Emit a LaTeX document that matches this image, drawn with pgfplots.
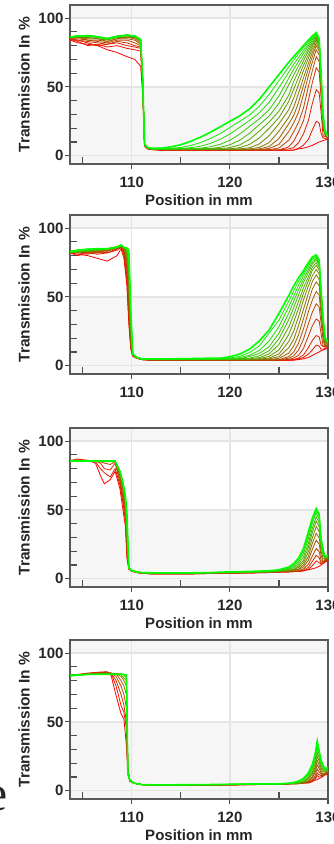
\documentclass[border=0pt]{standalone}
\usepackage{pgfplots}
\pgfplotsset{compat=1.18}
\usepackage{pgfplotstable}
\usepackage{fontspec}
\setmainfont{Liberation Sans}
\newfontfamily\seriffont{Liberation Serif}

\foreach \i in {0,...,15}{\pgfmathtruncatemacro\p{round(\i*100/15)}\xglobal\colorlet{p\i}{green!\p!red}}
\foreach \i in {0,...,11}{\pgfmathtruncatemacro\p{round(\i*100/11)}\xglobal\colorlet{q\i}{green!\p!red}}

% Panel 1
\pgfplotstableread{
x c0 c1 c2 c3 c4 c5 c6 c7 c8 c9 c10 c11 c12 c13 c14 c15
103.7 84 85 84 85 85 85 86 86 86 86.5 86 86.5 86 86.5 86 86
104.5 82 83 84 84 85 86 86 86 87 87 86.5 87 87.5 87 87 87
105.5 81 80 82 83 84 84 85 86 86.5 87 87 87.5 87 87 87.5 87
106.5 80 81 80 82 83 84 85 85 86 86 86.5 86 86.5 86 86.5 86.5
107.5 77 79 81 81 82 83 83 84 84.5 85 85 84.5 85 85.5 85 85
108.5 75 80 82 83 84 85 85 86 86 86.5 87 86.5 86.5 87 86.5 86.5
109.5 72 78 80 82 84 85 86 86 87 87 87.5 87.5 88 87.5 87.5 87.5
110.3 70 77 79 80 82 84 85 86 86 86.5 87 87 87 87 87 87
110.9 65 76 78 79 80 81 82 83 84 84 84 84 84 84.5 84.5 84.5
111.1 45 50 52 53 54 55 55 56 56 57 57 57 58 58 58 58
111.3 7 7.5 8 8 8 8 8 8 8 8 8.5 8.5 8.5 8.5 8.5 8.5
111.6 5 5 5.5 5.5 5.5 6 6 6 6 6 6 6 6 6 6 6
112 4.5 4.5 4.5 5 5 5 5 5 5 5 5 5 5 5 5 5.5
113 4 4 4.2 4.2 4.4 4.5 4.5 4.6 4.8 4.8 4.9 5 5 5 5.2 5.5
114 4 4 4.2 4.2 4.4 4.5 4.5 4.6 4.8 4.8 4.9 5 5 5 5.5 6.5
115 4 4 4.2 4.2 4.4 4.5 4.5 4.6 4.8 4.8 4.9 5 5 5.2 6 8
116 4 4 4.2 4.2 4.4 4.5 4.5 4.6 4.8 4.8 4.9 5 5 5.9 7.5 10.5
117 4 4 4.2 4.2 4.4 4.5 4.5 4.6 4.8 4.8 4.9 5 5.5 6.9 9.5 13.5
118 4 4 4.2 4.2 4.4 4.5 4.5 4.6 4.8 4.8 4.9 5.3 6.5 8.9 12.5 17
119 4 4 4.2 4.2 4.4 4.5 4.5 4.6 4.8 4.8 5.2 6.1 8.3 11.9 16 21
120 4 4 4.2 4.2 4.4 4.5 4.5 4.6 4.8 5 5.9 8 11.2 15.7 20.5 25
121 4 4 4.2 4.2 4.4 4.5 4.5 4.6 5 5.9 7.9 11.2 15.7 20.7 25 29
122 4 4 4.2 4.2 4.4 4.5 4.5 5 5.8 8.2 11.8 16.3 21.3 25.6 29.5 34
123 4 4 4.2 4.2 4.4 4.5 5 6 8.6 12.9 17.9 22.6 26.8 31.2 36 41
124 4 4 4.2 4.2 4.4 5.3 6.7 9.6 14.6 19.9 24.5 28.8 33.4 38.8 44.5 50
125 4 4 4.2 4.2 5.6 8.2 12.5 17.8 23.2 27.7 32.4 38.1 43.4 49.5 54.5 59
126 4 4 5 6.5 11.3 17.6 23.2 28 33.4 39.5 43.9 51.5 56.4 60.7 64.5 68
126.5 4 4.2 5.9 10.5 17.4 23.8 29.2 35.2 41.9 48.3 53.8 58.5 62.7 66.3 69.5 72
127 5 5.4 9.5 17.4 24.3 31.7 38.7 45.5 51.8 57.1 61.6 65.4 68.7 71.4 74 76
127.5 5.5 7.7 15.9 25.4 34.7 44.3 51.1 56.6 61.8 65.6 68.9 71.6 74.3 76.4 78.5 80
128 6.5 11.9 25.5 40.3 50.3 58.2 63.2 67 70.8 73.5 76.2 77.9 79.9 81.4 83 84
128.4 7.5 18.6 37.9 53 61.7 67.9 72 75 77.8 79.7 81.3 82.8 84.2 85.3 86 87
128.8 9 25 48 64 72 77 80 82 84 85 86 87 88 88.5 89 89.5
129.1 10 23.8 45.6 60.8 68.4 73.2 76 77.9 79.8 80.8 81.7 82.7 83.6 84.1 84.6 85
129.3 10.5 16 31 41.6 46.8 50 52 53.3 54.6 55.3 56 56.6 57.2 57.5 58 60
129.5 11 13 14.4 19.2 21.6 23.1 24 24.6 25.2 25.5 25.8 26.1 26.4 26.6 27 30
129.7 11.5 12.5 14 15 15 15.5 15.5 16 16 16 16.5 16.5 17 17 17.5 18
130 12 12 13 13 13 13 13 13.5 13.5 13.5 13.5 14 14 14 14 14
}\tabA

% Panel 2
\pgfplotstableread{
x c0 c1 c2 c3 c4 c5 c6 c7 c8 c9 c10 c11 c12 c13 c14 c15
103.7 82 82 83 82 83 83 82 83 83 82 83 83 82 83 83 83
104.5 81 80 82 83 82 83 84 83 82 84 83 84 83 84 84 84
105.5 80 82 81 82 83 82 83 84 84 83 84 84 84 84 85 84.5
106.5 78 81 83 82 82 84 83 84 84 84 85 84 85 85 84.5 85
107.5 76 82 82 84 83 84 84 85 84 85 84.5 85 85 85 85 85
108.5 80 84 85 85 86 85 86 86 86 86.5 86 86 86.5 86 86.5 86
108.9 85 86 86 87 87 87 87 87.5 87 87.5 87.5 87.5 87.5 87.5 88 87.5
109.2 78 80 82 83 84 85 85 85.5 86 86 86 86 86 86 86 86
109.5 58 62 66 70 73 76 78 80 81 82 83 84 84.5 85 85 85.5
109.7 30 33 36 40 44 48 52 56 60 64 68 72 76 78 80 84
109.9 12 13 14 15 16 17 19 21 23 25 27 29 32 34 37 40
110.1 7 7 7 7.5 7.5 7.5 8 8 8 8 8 8.5 8.5 8.5 8.5 8.5
110.5 5.5 5.5 5.5 5.5 6 6 6 6 6 6 6 6 6 6 6 6
111 4.5 4.5 4.5 4.5 4.5 5 5 5 5 5 5 5 5 5 5 5
112 4 4 4 4 4.2 4.2 4.4 4.4 4.6 4.6 4.8 4.8 5 5 5 5
114 4 4 4 4 4.2 4.2 4.4 4.4 4.6 4.6 4.8 4.8 5 5 5 5
116 4 4 4 4 4.2 4.2 4.4 4.4 4.6 4.6 4.8 4.8 5 5 5 5.2
118 4 4 4 4 4.2 4.2 4.4 4.4 4.6 4.6 4.8 4.8 5 5 5 5.5
119 4 4 4 4 4.2 4.2 4.4 4.4 4.6 4.6 4.8 4.8 5 5 5 5.5
120 4 4 4 4 4.2 4.2 4.4 4.4 4.6 4.6 4.8 4.8 5 5 5.6 6.5
121 4 4 4 4 4.2 4.2 4.4 4.4 4.6 4.6 4.8 5 5.2 5.9 6.9 8.5
122 4 4 4 4 4.2 4.2 4.4 4.4 4.6 4.6 5 5.5 6.7 7.6 9.6 12
123 4 4 4 4 4.2 4.2 4.4 4.4 4.8 5.2 5.9 7.2 8.9 11.1 14.4 18
124 4 4 4 4 4.2 4.2 4.4 5 5.6 6.8 8.6 10.9 13.9 18 23.7 26
125 4 4 4 4 4.2 4.4 5.4 6.6 8.6 11.5 15.5 19.6 23.6 28.4 33.2 38
126 4 4 4.2 4.6 5.5 6.7 9.2 13.1 17.6 22.7 28.2 33.5 38.2 42.9 46.8 51
126.5 4 4.2 4.6 5.6 7.2 10 14.4 19.1 25.2 31.6 37.1 42.2 46.7 50.6 54.4 58
127 4.5 5 5.6 7.6 11.5 16.4 22.4 29.1 35.7 41.8 46.7 51.5 55.3 58.5 61.4 64
127.5 5 6 7.8 12.6 19.3 26.7 34.2 41 47.9 52.7 56.5 60.4 62.8 65.3 67.3 69
128 6 8.5 13.1 21.6 30.5 39.3 46.6 52.7 58 61.7 64.5 67.7 69.9 72 73.9 75
128.4 7.5 11.5 18.3 28.9 38.8 47.6 55.6 61.2 65.3 69.3 71.6 73.9 75.3 77.2 78.1 79
128.8 9 15 22 34 45 54 61 66 70 73 75 77 78 79 80 80.5
129.1 10 14.3 20.9 32.3 42.8 51.3 58 62.7 66.5 69.4 71.3 73.2 74.1 75 76 77
129.3 11 12 15 23.1 30.6 36.7 41.5 44.9 47.6 49.6 51 52.4 53 53.7 54.4 55
129.5 11.5 12 14 14.3 18.9 22.7 25.6 27.7 29.4 30.7 31.5 32.3 32.8 33.2 33.6 35
129.7 12 12.5 13.5 14 14 14.5 15.3 16.5 17.5 18.3 18.8 19.3 19.5 19.8 20 20
130 12.5 13 13.5 14 14.5 15 15 15.5 16 16 16.5 17 17 17.5 17.5 18
}\tabB

% Panel 3
\pgfplotstableread{
x c0 c1 c2 c3 c4 c5 c6 c7 c8 c9 c10 c11
103.7 85 85.5 86 85 85.5 85.5 85.5 85.5 85.5 85.5 85.5 85.5
104.5 86 86.5 87 86 86 85.5 86 85.5 85.5 85.5 85.5 85.5
105.5 86 85.5 86 85.5 85.5 85.5 85.5 85.5 85.5 85.5 85.5 85.5
106.3 84 85 85.5 85.5 85.5 85.5 85.5 85.5 85.5 85.5 85.5 85.5
106.8 75 80 84 85 85.5 85.5 85.5 85.5 85.5 85.5 85.5 85.5
107.2 69 77 80 84 85 85.5 85.5 85.5 85.5 85.5 85.5 85.5
107.8 72 74 79 83 85 85.5 85.5 85.5 85.5 85.5 85.5 85.5
108.3 78 80 84 85 85.5 85.5 85.5 85.5 85.5 85.5 85.5 85.5
108.8 65 68 70 72 74 75 76 77 77 78 78 78
109.1 50 55 58 60 63 65 66 68 69 69 70 70
109.35 38 42 45 48 50 53 55 56 57 58 59 60
109.5 15 18 20 22 25 28 30 33 36 40 44 48
109.7 7 7 7 7.5 7.5 7.5 8 8 8 8 8 8
110 5.5 5.5 5.5 5.5 5.5 6 6 6 6 6 6 6
110.5 4.5 4.5 4.5 5 5 5 5 5 5 5 5 5
111 4 4 4 4 4.2 4.2 4.4 4.4 4.5 4.5 4.5 4.5
112 3.5 3.5 3.6 3.7 3.8 3.9 4 4.1 4.2 4.2 4.3 4.3
114 3.5 3.5 3.6 3.7 3.8 3.9 4 4.1 4.2 4.2 4.3 4.3
116 3.5 3.5 3.6 3.7 3.8 3.9 4 4.1 4.2 4.2 4.3 4.3
118 3.8 3.8 3.9 4 4.1 4.2 4.3 4.4 4.5 4.5 4.5 4.5
120 4 4 4.1 4.2 4.3 4.4 4.5 4.6 4.7 4.8 4.9 5
122 4.2 4.2 4.3 4.4 4.5 4.6 4.7 4.8 4.9 5 5.1 5.3
124 4.5 4.5 4.6 4.7 4.8 4.9 5 5.1 5.2 5.4 5.6 5.8
125 4.8 4.9 5 5 5.2 5.3 5.4 5.6 5.7 6 6.3 6.5
126 5 5 5 5.2 5.5 5.7 5.9 6.2 6.8 7.4 7.9 8.5
126.5 5.2 5.2 5.2 5.4 5.8 6.2 6.7 7 8 8.9 9.9 11
127 5.5 5.2 5.5 5.9 6.6 7.1 8.2 9.3 10.6 12.2 13.8 15
127.5 6 5.6 6.2 7.1 8.6 10 11.7 13.4 15.8 18.3 20.3 22
128 6.5 7 8.3 10.5 13.4 16.2 19.6 22.9 25.9 29.1 31.6 34
128.4 7.2 9.5 12.6 16.5 21.3 25.7 29.7 33.6 36.7 40.1 42.4 44
128.8 8 13 17 22 28 33 38 42 45 48 50 51
129.1 9 11.7 15.3 19.8 25.2 29.7 34.2 37.8 40.5 43.2 45 47
129.3 10 10.5 11 13.2 16.8 19.8 22.8 25.2 27 28.8 30 27
129.5 11 12 12 12 12.6 14.9 17.1 18.9 20.3 21.6 22.5 19
129.7 12 12.5 13 13.5 13.5 14 14.5 15 15.5 16 16 16
130 13 13.5 14 14.5 15 15 15.5 16 16.5 17 17 17
}\tabC

% Panel 4
\pgfplotstableread{
x c0 c1 c2 c3 c4 c5 c6 c7 c8 c9 c10 c11
103.7 83.5 83.5 84 83.5 84 83.5 84 83.5 84 84 83.5 83.5
104.5 84 84.5 84 84.5 84 84 84.5 84 84 84.5 84 84
105.5 85 85.5 85 85 84.5 85 84.5 84.5 84.5 84.5 84.5 84.5
106.5 86 86 85.5 85.5 85 85 85 85 84.5 84.5 84.5 84.5
107.5 86.5 86 86 85.5 85.5 85 85 85 85 84.5 84.5 84.5
107.9 83.5 85 85.5 85.5 85.5 85 85 85 85 84.5 84.5 84.5
108.4 69 76 80 83 85 85 85 85 85 84.5 84.5 84.5
108.9 56 62 70 76 80 83 84.5 85 85 84.5 84.5 84.5
109.2 52 57 62 70 76 80 82 84 84.5 84.5 84.5 84.5
109.45 33 45 50 60 70 76 80 82 83 84 84 84
109.6 12 13 14 15 16 16 15 14 14 13 13 12
109.8 7 7 7 7 7 7 7.5 7.5 7.5 7.5 8 8
110.2 5.5 5.5 5.5 5.5 5.5 5.5 5.5 5.5 5.5 5.5 5.5 5.5
111 4.5 4.5 4.5 4.5 4.5 4.5 4.5 4.5 4.5 4.5 4.5 4.5
112 4 4 4 4 4.2 4.2 4.2 4.2 4.3 4.3 4.3 4.3
114 4 4 4 4 4.2 4.2 4.2 4.2 4.3 4.3 4.3 4.3
116 4 4 4 4.1 4.2 4.2 4.3 4.3 4.4 4.4 4.4 4.4
118 4 4 4.1 4.1 4.2 4.3 4.3 4.4 4.4 4.5 4.5 4.5
120 4.2 4.2 4.3 4.3 4.4 4.4 4.5 4.5 4.6 4.6 4.7 4.7
122 4.4 4.4 4.5 4.5 4.6 4.6 4.7 4.7 4.8 4.8 4.9 4.9
124 4.6 4.6 4.7 4.7 4.8 4.8 4.9 4.9 5 5 5 5
125 4.8 4.8 4.8 4.9 4.9 5 5 5 5 5 5 5
126 5 5 5 5 5 5 5 5.1 5.2 5.3 5.4 5.5
126.5 5.2 5.1 5.1 5.1 5.1 5.1 5.1 5.3 5.4 5.5 5.9 6
127 5.5 5.2 5.2 5.1 5.2 5.3 5.4 5.6 5.8 6.3 6.8 7
127.5 6 5.6 5.7 5.5 5.7 5.9 6.2 6.5 7.1 8.1 8.7 9
128 6.5 5.6 5.7 6.2 6.7 7.2 8.4 9.3 10.5 11.5 12.4 13
128.4 7.2 6.5 6.9 7.8 9.2 10.3 12 13.5 15.2 16.5 18.1 19
128.7 7.7 8.3 9.3 11.2 13.8 15.4 17.5 19.8 22.4 24.2 25.8 27
128.9 8 11 13 16 19 22 25 28 31 33 35 36
129.1 9 10 11.5 13.6 16.2 18.7 21.3 23.8 26.4 28 29.8 28
129.3 9.5 10 11 12 13 14.3 16.3 18.2 20.2 21.5 22.8 21
129.5 10.5 11 11 11 11 12.1 13.8 15.4 17.1 18.2 19.3 18
129.7 11.5 12 12 12.5 12.5 13 13.5 14 14.5 15 15.5 16
130 12.5 13 13 13.5 13.5 14 14 14.5 15 15.5 16 17
}\tabD

\pgfplotsset{
  panel/.style={
    scale only axis, width=258pt, height=159pt, anchor=north west,
    xmin=103.7, xmax=130, ymin=-6, ymax=109.5,
    xtick={110,120,130}, ytick={0,50,100},
    extra x ticks={105,115,125}, extra x tick labels={},
    extra y ticks={10,20,30,40,60,70,80,90}, extra y tick labels={},
    extra tick style={tick align=inside, major tick length=7pt, grid=none},
    tick pos=left, tick align=outside, major tick length=5pt,
    tick style={black!70, line width=1.1pt},
    axis line style={black!65, line width=1.5pt},
    grid=major, major grid style={gray!20, line width=1.2pt},
    /pgf/number format/assume math mode=true,
    ticklabel style={font=\bfseries\fontsize{15}{17}\selectfont, text=black!85},
    yticklabel style={xshift=2pt},
    xticklabel style={yshift=-4pt},
    every axis y label/.style={at={(axis description cs:-0.178,0.5)}, anchor=center, rotate=90,
      font=\bfseries\fontsize{15.5}{18}\selectfont, text=black!85},
    every axis x label/.style={at={(axis description cs:0.5,-0.226)}, anchor=center,
      font=\bfseries\fontsize{15}{18}\selectfont, text=black!85},
    ylabel={Transmission In \%},
    set layers, clip=true,
  },
}

\newcommand\bands{%
  \begin{pgfonlayer}{axis background}
    \fill[gray!7] (axis cs:103.7,-6) rectangle (axis cs:130,50);
    \fill[gray!7] (axis cs:103.7,100) rectangle (axis cs:130,109.5);
  \end{pgfonlayer}}

\begin{document}
\begin{tikzpicture}
\begin{axis}[panel, at={(70pt,-5pt)}, xlabel={Position in mm}]
  \bands
  \pgfplotsinvokeforeach{0,...,14}{\addplot[p#1, line width=0.8pt] table[x=x,y=c#1]{\tabA};}
  \addplot[p15, line width=1.6pt] table[x=x,y=c15]{\tabA};
\end{axis}
\begin{axis}[panel, at={(70pt,-215pt)}]
  \bands
  \pgfplotsinvokeforeach{0,...,14}{\addplot[p#1, line width=0.8pt] table[x=x,y=c#1]{\tabB};}
  \addplot[p15, line width=1.6pt] table[x=x,y=c15]{\tabB};
\end{axis}
\begin{axis}[panel, at={(70pt,-428pt)}, xlabel={Position in mm}]
  \bands
  \pgfplotsinvokeforeach{0,...,10}{\addplot[q#1, line width=0.8pt] table[x=x,y=c#1]{\tabC};}
  \addplot[q11, line width=1.6pt] table[x=x,y=c11]{\tabC};
\end{axis}
\begin{axis}[panel, at={(70pt,-640pt)}, xlabel={Position in mm}]
  \bands
  \pgfplotsinvokeforeach{0,...,10}{\addplot[q#1, line width=0.8pt] table[x=x,y=c#1]{\tabD};}
  \addplot[q11, line width=1.6pt] table[x=x,y=c11]{\tabD};
\end{axis}
\node[font=\seriffont\fontsize{50}{50}\selectfont, anchor=base west, inner sep=0pt, text=black!85] at (-15pt,-810pt) {e};
\pgfresetboundingbox
\path[use as bounding box] (0,0) rectangle (333pt,-844pt);
\end{tikzpicture}
\end{document}
